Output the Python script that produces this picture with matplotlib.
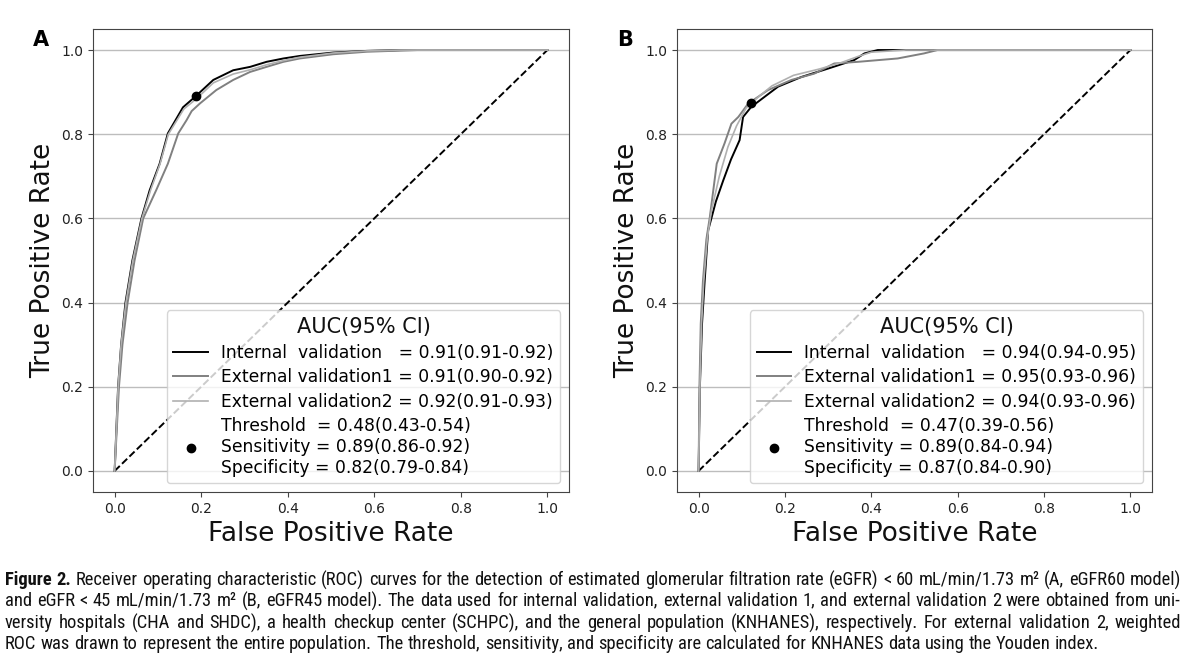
import math
import matplotlib
matplotlib.use('Agg')
import matplotlib.pyplot as plt
from matplotlib import font_manager
from matplotlib.font_manager import FontProperties
from matplotlib.lines import Line2D

#####################################################
#   Data                #
#####################################################

# Panel A (eGFR60 model)
a_int_fpr = [0, .004, .008, .015, .025, .041, .062, .081, .104, .123, .158, .187, .228, .274, .313, .351, .39, .428, .505, .583, .66, 1.0]
a_int_tpr = [0, .10, .20, .30, .40, .50, .60, .667, .73, .802, .864, .89, .929, .952, .96, .972, .98, .986, .994, .998, 1.0, 1.0]
a_ext1_fpr = [0, .005, .01, .018, .03, .046, .066, .096, .123, .147, .166, .178, .197, .235, .274, .313, .351, .39, .428, .505, .583, .70, 1.0]
a_ext1_tpr = [0, .10, .20, .30, .40, .50, .60, .667, .73, .802, .833, .855, .873, .905, .929, .948, .96, .972, .98, .99, .996, 1.0, 1.0]
a_ext2_fpr = [0, .004, .008, .015, .026, .042, .063, .083, .105, .124, .16, .19, .228, .274, .313, .351, .39, .428, .505, .583, .66, 1.0]
a_ext2_tpr = [0, .10, .20, .30, .40, .50, .60, .667, .73, .80, .86, .885, .922, .943, .953, .965, .975, .983, .993, .998, 1.0, 1.0]
a_dot = (0.187, 0.891)
a_auc = ["0.91(0.91-0.92)", "0.91(0.90-0.92)", "0.92(0.91-0.93)"]
a_youden = ["0.48(0.43-0.54)", "0.89(0.86-0.92)", "0.82(0.79-0.84)"]

# Panel B (eGFR45 model)
b_int_fpr = [0, .003, .008, .014, .022, .04, .057, .075, .095, .103, .122, .153, .184, .238, .30, .36, .384, .415, 1.0]
b_int_tpr = [0, .20, .35, .45, .571, .64, .69, .74, .786, .841, .865, .889, .913, .936, .956, .976, .992, 1.0, 1.0]
b_ext1_fpr = [0, .002, .005, .01, .018, .026, .042, .06, .076, .092, .115, .161, .215, .268, .314, .369, .461, .522, .553, 1.0]
b_ext1_tpr = [0, .20, .35, .45, .55, .603, .73, .778, .825, .841, .873, .905, .929, .944, .968, .972, .98, .992, 1.0, 1.0]
b_ext2_fpr = [0, .003, .007, .012, .02, .03, .048, .068, .088, .11, .14, .17, .22, .28, .33, .37, .40, .48, 1.0]
b_ext2_tpr = [0, .20, .35, .45, .55, .62, .70, .77, .82, .862, .89, .915, .94, .955, .97, .985, .995, 1.0, 1.0]
b_dot = (0.121, 0.875)
b_auc = ["0.94(0.94-0.95)", "0.95(0.93-0.96)", "0.94(0.93-0.96)"]
b_youden = ["0.47(0.39-0.56)", "0.89(0.84-0.94)", "0.87(0.84-0.90)"]

ticks = [0.0, 0.2, 0.4, 0.6, 0.8, 1.0]

caption_lines = [
    "Figure 2. Receiver operating characteristic (ROC) curves for the detection of estimated glomerular filtration rate (eGFR) < 60 mL/min/1.73 m\u00b2 (A, eGFR60 model)",
    "and eGFR < 45 mL/min/1.73 m\u00b2 (B, eGFR45 model). The data used for internal validation, external validation 1, and external validation 2 were obtained from uni-",
    "versity hospitals (CHA and SHDC), a health checkup center (SCHPC), and the general population (KNHANES), respectively. For external validation 2, weighted",
    "ROC was drawn to represent the entire population. The threshold, sensitivity, and specificity are calculated for KNHANES data using the Youden index.",
]

#####################################################
#   Plotting                                        #
#####################################################

W, H = 1188, 664
fig = plt.figure(figsize=(W / 100, H / 100), dpi=100)

spine_col = '#444444'


def draw_panel(rect, letter, letter_x, curves, dot, auc, youden):
    ax = fig.add_axes(rect)
    ax.plot([0, 1], [0, 1], color='black', linestyle='--', linewidth=1.4)
    handles = []
    for (fx, ty), col, lw in zip(curves, ['black', '#808080', '#b0b0b0'], [1.4, 1.4, 1.2]):
        h, = ax.plot(fx, ty, color=col, linewidth=lw)
        handles.append(h)
    ax.plot([dot[0]], [dot[1]], 'o', color='black', markersize=6)
    handles.append(Line2D([], [], marker='o', color='black', linestyle='None', markersize=6))
    labels = [
        "Internal  validation   = " + auc[0],
        "External validation1 = " + auc[1],
        "External validation2 = " + auc[2],
        "Threshold  = " + youden[0] + "\nSensitivity = " + youden[1] + "\nSpecificity = " + youden[2],
    ]
    ax.set_xlim(-0.05, 1.05)
    ax.set_ylim(-0.05, 1.05)
    ax.set_xticks(ticks)
    ax.set_yticks(ticks)
    ax.grid(axis='y', color='#bdbdbd', linewidth=1)
    ax.set_axisbelow(True)
    ax.tick_params(labelsize=10, colors=spine_col, labelcolor='#222222')
    for s in ax.spines.values():
        s.set_color(spine_col)
    ax.set_xlabel("False Positive Rate", fontsize=19, color='#111111')
    ax.set_ylabel("True Positive Rate", fontsize=19, color='#111111')
    leg = ax.legend(handles, labels, title="AUC(95% CI)", loc='lower right',
                    fontsize=12.3, title_fontsize=15, labelspacing=0.38)
    leg.get_title().set_color('#111111')
    fig.text(letter_x / W, 1 - 40 / H, letter, fontsize=15, fontweight='bold',
             ha='center', va='center')
    return ax


draw_panel([93 / W, 1 - 492 / H, 476 / W, 463 / H], "A", 41,
           [(a_int_fpr, a_int_tpr), (a_ext1_fpr, a_ext1_tpr), (a_ext2_fpr, a_ext2_tpr)],
           a_dot, a_auc, a_youden)
draw_panel([677 / W, 1 - 492 / H, 475 / W, 463 / H], "B", 625,
           [(b_int_fpr, b_int_tpr), (b_ext1_fpr, b_ext1_tpr), (b_ext2_fpr, b_ext2_tpr)],
           b_dot, b_auc, b_youden)

#####################################################
#   Caption, justified word by word                 #
#####################################################

# look for a narrow sans face, the caption is set in a condensed font
names = {(f.name, f.stretch) for f in font_manager.fontManager.ttflist}
cap_family, cap_stretch = 'Liberation Sans', 'normal'
for fam, st in [('Liberation Sans Narrow', 'normal'), ('Roboto Condensed', 'normal'),
                ('Open Sans Condensed', 'normal'), ('Noto Sans', 'condensed'),
                ('DejaVu Sans', 'condensed'), ('Roboto', 'condensed')]:
    if any(n == fam and (st == 'normal' or s in ('condensed', 'semi-condensed')) for n, s in names):
        cap_family, cap_stretch = fam, st
        break


def cap_prop(size, bold=False):
    return FontProperties(family=cap_family, stretch=cap_stretch, size=size,
                          weight='bold' if bold else 'normal')


fig.canvas.draw()
renderer = fig.canvas.get_renderer()


def text_w(s, prop):
    t = fig.text(0, 0, s, fontproperties=prop)
    w = t.get_window_extent(renderer).width
    t.remove()
    return w


def baseline_nudge(s, prop):
    # Agg snaps each word's bitmap to whole pixels from its own ink box,
    # which makes words hop up and down; work out the shift that undoes it
    try:
        from matplotlib.backends.backend_agg import get_hinting_flag
        font = renderer._prepare_font(prop)
        font.set_text(s, 0, flags=get_hinting_flag())
        desc = font.get_descent() / 64.0
        top = font.get_width_height()[1] / 64.0 - desc
        return math.trunc(top + desc) - math.floor(top) - desc
    except Exception:
        return 0.0


# one size for the whole caption: the last (ragged) line ends near x=1093
base_size = 10 * 1088 / text_w(caption_lines[-1], cap_prop(10))
space_w = text_w("a a", cap_prop(base_size)) - text_w("aa", cap_prop(base_size))

cap_left, cap_right = 5, 1181
cap_base = [585, 606, 628, 649]
for r, line in enumerate(caption_lines):
    words = line.split(' ')
    props = [cap_prop(base_size, r == 0 and k < 2) for k in range(len(words))]
    widths = [text_w(w, p) for w, p in zip(words, props)]
    if r < len(caption_lines) - 1:
        gap = (cap_right - cap_left - sum(widths)) / (len(words) - 1)
    else:
        gap = space_w
    x = cap_left
    for w, p, wd in zip(words, props, widths):
        yb = cap_base[r] + baseline_nudge(w, p)
        fig.text(x / W, (H - yb) / H, w, fontproperties=p,
                 va='baseline', ha='left', color='#111111')
        x += wd + gap

fig.savefig('out.png', dpi=100)
print("End")
